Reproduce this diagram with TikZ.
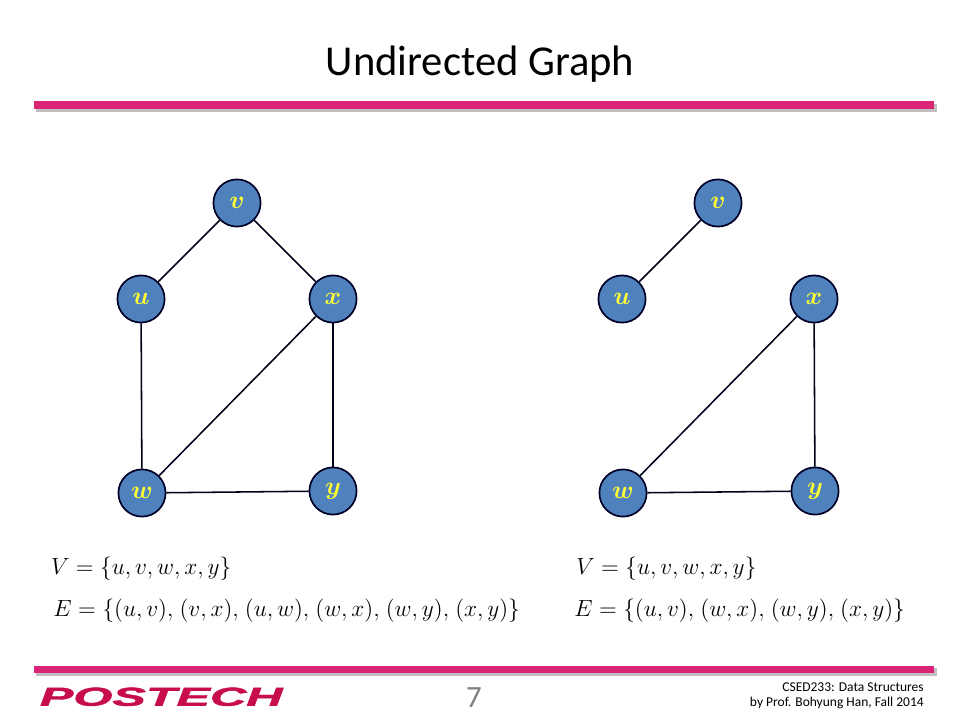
\documentclass[tikz,border=0pt]{standalone}
\usepackage{fix-cm}
\usepackage{fontspec}
\setmainfont{Carlito}
\newfontfamily\logofont[BoldItalicFeatures={FakeBold=1.5}]{Liberation Sans}
\definecolor{barpink}{rgb}{0.86, 0.14, 0.46}
\definecolor{logored}{rgb}{0.78, 0.05, 0.30}
\definecolor{nodeblue}{rgb}{0.31, 0.51, 0.74}
\definecolor{labelyellow}{rgb}{1, 1, 0.2}
\newcommand{\pairgap}{\hspace{1.6pt}}
\tikzset{
  vertex/.style={circle, draw=black!85!blue, line width=1.2pt, fill=nodeblue, minimum size=1.18cm, inner sep=0pt, text=labelyellow, font=\fontsize{18}{20}\selectfont\boldmath},
  edge/.style={line width=1.1pt, black!90!blue},
  eqn/.style={anchor=west, inner sep=0pt, font=\fontsize{16.6}{18}\selectfont},
  bar/.style={fill=barpink},
  barshadow/.style={fill=black!25}
}

\begin{document}
\begin{tikzpicture}
\useasboundingbox (0, 0) rectangle (24, 18);
\node[font=\fontsize{30.3}{36}\selectfont] (title) at (12, 16.4) {Undirected Graph};
% top and bottom bars
\fill[barshadow] (0.9, 15.2) rectangle (23.42, 15.4);
\fill[bar] (0.85, 15.28) rectangle (23.35, 15.48);
\fill[barshadow] (0.9, 1.1) rectangle (23.42, 1.3);
\fill[bar] (0.85, 1.18) rectangle (23.35, 1.36);
% left graph
\node[vertex] (lv) at (5.925, 12.925) {$v$};
\node[vertex] (lu) at (3.525, 10.525) {$u$};
\node[vertex] (lx) at (8.325, 10.525) {$x$};
\node[vertex] (lw) at (3.55, 5.675) {$w$};
\node[vertex] (ly) at (8.325, 5.725) {$y$};
\draw[edge] (lu) -- (lv);
\draw[edge] (lv) -- (lx);
\draw[edge] (lu) -- (lw);
\draw[edge] (lw) -- (lx);
\draw[edge] (lw) -- (ly);
\draw[edge] (lx) -- (ly);
% right graph
\node[vertex] (rv) at (17.95, 12.925) {$v$};
\node[vertex] (ru) at (15.55, 10.525) {$u$};
\node[vertex] (rx) at (20.35, 10.525) {$x$};
\node[vertex] (rw) at (15.575, 5.675) {$w$};
\node[vertex] (ry) at (20.375, 5.725) {$y$};
\draw[edge] (ru) -- (rv);
\draw[edge] (rw) -- (rx);
\draw[edge] (rw) -- (ry);
\draw[edge] (rx) -- (ry);
% vertex and edge sets
\node[eqn] (lset) at (1.27, 3.78) {$V=\{u,v,w,x,y\}$};
\node[eqn] (ledge) at (1.33, 2.73) {$E=\{(u,v),\pairgap(v,x),\pairgap(u,w),\pairgap(w,x),\pairgap(w,y),\pairgap(x,y)\}$};
\node[eqn] (rset) at (14.4, 3.78) {$V=\{u,v,w,x,y\}$};
\node[eqn] (redge) at (14.35, 2.73) {$E=\{(u,v),\pairgap(w,x),\pairgap(w,y),\pairgap(x,y)\}$};
% footer
\node[text=logored, font=\logofont\bfseries\itshape\fontsize{18.5}{20}\selectfont, xscale=1.93, inner sep=0pt] (logo) at (4.03, 0.58) {POSTECH};
\node[text=black!50, font=\fontsize{22}{26}\selectfont] (page) at (11.85, 0.57) {7};
\node[anchor=east, align=right, inner sep=0pt, font=\fontsize{9.6}{10.7}\selectfont] (course) at (23.1, 0.6) {CSED233: Data Structures\\by Prof. Bohyung Han, Fall 2014};
\end{tikzpicture}
\end{document}
